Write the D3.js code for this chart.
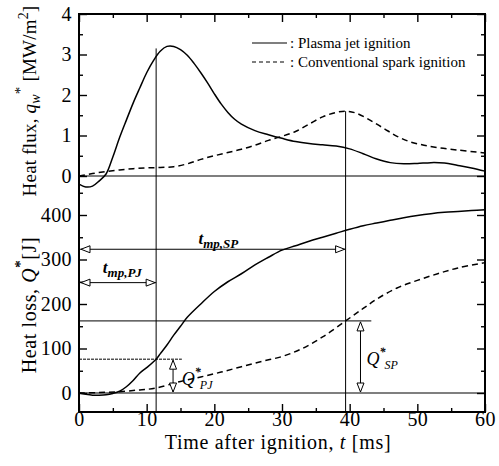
<!DOCTYPE html>
<html><head><meta charset="utf-8">
<script src="https://cdn.jsdelivr.net/npm/d3@7"></script>
<style>
html,body{margin:0;padding:0;background:#fff;}
text{font-family:"Liberation Serif","Times New Roman",serif;fill:#000;}
</style></head>
<body><svg id="c" width="499" height="466"></svg>
<script>
// ---- data ----
const tFluxPJ = [0,1,2,3,4,5,6,7,8,9,10,11,12,13,14,15,16,17,18,19,20,21,22,23,24,26,28,30,32,34,36,38,40,42,44,46,48,50,52,54,56,58,60];
const qFluxPJ = [-0.2,-0.27,-0.25,-0.12,0.05,0.47,0.95,1.38,1.8,2.18,2.55,2.85,3.08,3.2,3.2,3.12,2.98,2.78,2.55,2.3,2.03,1.78,1.57,1.4,1.28,1.12,1.02,0.93,0.85,0.8,0.77,0.74,0.67,0.55,0.42,0.33,0.3,0.31,0.33,0.32,0.26,0.2,0.12];
const tFluxSP = [0,2,4,6,8,10,12,14,16,18,20,22,24,26,28,30,32,34,36,38,39.5,41,43,45,47,49,51,53,56,60];
const qFluxSP = [0,0.06,0.11,0.15,0.18,0.2,0.21,0.23,0.3,0.41,0.5,0.58,0.66,0.76,0.88,0.98,1.1,1.28,1.46,1.57,1.6,1.55,1.38,1.18,0.98,0.84,0.76,0.7,0.64,0.57];
const tLossPJ = [0,1,2,3,4,5,6,7,8,9,10,11.4,12,13,14,15,16,18,20,22,24,26,28,30,32,34,36,38,40,42,44,46,48,50,52,54,56,58,60];
const QLossPJ = [0,-3,-5,-5,-4,-1,4,14,28,45,57,76,88,108,130,150,170,200,228,250,268,288,305,321,331,341,350,359,368,376,382,388,394,399,403,406,408,410,412];
const tLossSP = [0,3,6,9,11.4,15,18,21,24,27,30,33,36,39.4,42,44,47,50,53,56,60];
const QLossSP = [0,1,3,7,11,26,36,47,59,71,82,100,126,162,190,211,236,253,268,281,293];

const xTicks = [0,10,20,30,40,50,60];
const xMinor = [5,15,25,35,45,55];
const fluxTicks = [0,1,2,3,4];
const fluxMinor = [0.5,1.5,2.5,3.5];
const lossTicks = [0,100,200,300,400];
const lossMinor = [50,150,250,350,450];

// annotation values: times of max pressure and heat loss at those times
const tmp = [11.4, 39.4];          // t_mp,PJ , t_mp,SP
const Qmp = [76, 162];             // Q*_PJ , Q*_SP
const qTopOfMarker = [3.15, 1.6];  // where the vertical marker lines start (heat flux units)
const arrowLevels = [248, 323];    // heat loss levels of t_mp,PJ and t_mp,SP arrows
const legendLabels = [": Plasma jet ignition", ": Conventional spark ignition"];

// ---- layout ----
const svg = d3.select("#c");
const L=79, R=485, T=14, B=412;
const x = d3.scaleLinear().domain([0,60]).range([L,R]);
const yq = d3.scaleLinear().domain([0,4]).range([176,T]);
const yQ = d3.scaleLinear().domain([0,400]).range([393,215]);
const fmt = d3.format("d");

function axis(gen, transform, vals, size, labels, pad){
  const a = gen.tickValues(vals).tickSize(size).tickPadding(pad||7);
  a.tickFormat(labels ? fmt : "");
  const g = svg.append("g").attr("transform", transform).call(a);
  g.select(".domain").remove();
  g.selectAll("line").attr("stroke","#000").attr("stroke-width",1.4);
  g.selectAll("text").attr("font-size",20).attr("fill","#000")
    .style("font-family","Liberation Serif").style("letter-spacing","0.4px");
  g.attr("font-family",null).attr("font-size",null);
  return g;
}
// left
axis(d3.axisLeft(yq), `translate(${L},0)`, fluxTicks, -8, true);
axis(d3.axisLeft(yq), `translate(${L},0)`, fluxMinor, -4, false);
axis(d3.axisLeft(yQ), `translate(${L},0)`, lossTicks, -8, true);
axis(d3.axisLeft(yQ), `translate(${L},0)`, lossMinor, -4, false);
// right
axis(d3.axisRight(yq), `translate(${R},0)`, fluxTicks, -8, false);
axis(d3.axisRight(yq), `translate(${R},0)`, fluxMinor, -4, false);
axis(d3.axisRight(yQ), `translate(${R},0)`, lossTicks, -8, false);
axis(d3.axisRight(yQ), `translate(${R},0)`, lossMinor, -4, false);
// top
axis(d3.axisTop(x), `translate(0,${T})`, xTicks, -8, false);
axis(d3.axisTop(x), `translate(0,${T})`, xMinor, -4, false);
// bottom
const bx = axis(d3.axisBottom(x), `translate(0,${B})`, xTicks, -8, true, 0);
bx.selectAll("text").attr("dy",null).attr("y",14);
axis(d3.axisBottom(x), `translate(0,${B})`, xMinor, -4, false);

// frame
svg.append("rect").attr("x",L).attr("y",T).attr("width",R-L).attr("height",B-T)
  .attr("fill","none").attr("stroke","#000").attr("stroke-width",2);

// zero lines
svg.append("line").attr("x1",L).attr("x2",R).attr("y1",yq(0)).attr("y2",yq(0)).attr("stroke","#000").attr("stroke-width",1.2);
svg.append("line").attr("x1",L).attr("x2",R).attr("y1",yQ(0)).attr("y2",yQ(0)).attr("stroke","#000").attr("stroke-width",1.2);

// curves
const curve = d3.curveCatmullRom.alpha(0.5);
function drawCurve(ts, vs, ys, dashed){
  const pts = ts.map((t,i)=>[t,vs[i]]);
  svg.append("path").datum(pts)
    .attr("d", d3.line().x(d=>x(d[0])).y(d=>ys(d[1])).curve(curve))
    .attr("fill","none").attr("stroke","#000").attr("stroke-width",1.5)
    .attr("stroke-dasharray", dashed ? "6,4" : null);
}
drawCurve(tFluxPJ, qFluxPJ, yq, false);
drawCurve(tFluxSP, qFluxSP, yq, true);
drawCurve(tLossPJ, QLossPJ, yQ, false);
drawCurve(tLossSP, QLossSP, yQ, true);

// annotation lines
function ln(x1,y1,x2,y2,w,dash){
  svg.append("line").attr("x1",x1).attr("y1",y1).attr("x2",x2).attr("y2",y2)
    .attr("stroke","#000").attr("stroke-width",w||1).attr("stroke-dasharray",dash||null);
}
function head(tipX, tipY, dir){ // open triangle arrowhead
  const len=9, hw=3.5;
  let p;
  if(dir==="left") p=[[tipX,tipY],[tipX+len,tipY-hw],[tipX+len,tipY+hw]];
  if(dir==="right") p=[[tipX,tipY],[tipX-len,tipY-hw],[tipX-len,tipY+hw]];
  if(dir==="up") p=[[tipX,tipY],[tipX-hw,tipY+len],[tipX+hw,tipY+len]];
  if(dir==="down") p=[[tipX,tipY],[tipX-hw,tipY-len],[tipX+hw,tipY-len]];
  svg.append("path").attr("d","M"+p.map(d=>d.join(",")).join("L")+"Z")
    .attr("fill","#fff").attr("stroke","#000").attr("stroke-width",1);
}
// vertical marker lines
tmp.forEach((t,i)=> ln(x(t), yq(qTopOfMarker[i]), x(t), B, 1));
// horizontal t_mp arrows
tmp.forEach((t,i)=>{
  const y = yQ(arrowLevels[i]);
  ln(L+1, y, x(t), y, 1);
  head(L+2, y, "left");
  head(x(t)-1, y, "right");
});
// Q* level lines
ln(L, yQ(Qmp[0]), x(15.2), yQ(Qmp[0]), 1, "3,1");
ln(L, yQ(Qmp[1]), x(43.2), yQ(Qmp[1]), 1);
// Q* vertical double arrows
[[13.9, Qmp[0]],[41.6, Qmp[1]]].forEach(([t,Q])=>{
  ln(x(t), yQ(Q)+1, x(t), yQ(0)-1, 1);
  head(x(t), yQ(Q)+1, "up");
  head(x(t), yQ(0)-1, "down");
});

// annotation labels
function tLabel(cx, base, sub){
  const t = svg.append("text").attr("x",cx).attr("y",base).attr("text-anchor","middle")
    .attr("font-style","italic").attr("font-weight","bold");
  t.append("tspan").attr("font-size",17).text("t");
  t.append("tspan").attr("font-size",13).attr("dy",4).text(sub);
}
tLabel(x(20.6), yQ(335), "mp,SP");
tLabel(x(6.4), yQ(270), "mp,PJ");
function QLabel(sx, base, sub){
  const t = svg.append("text").attr("x",sx).attr("y",base).attr("font-style","italic");
  t.append("tspan").attr("font-size",18).text("Q");
  t.append("tspan").attr("font-size",12).attr("font-weight","bold").attr("dy",-9).text("*");
  t.append("tspan").attr("font-size",12).attr("dy",13).attr("dx",-1).text(sub);
}
QLabel(x(15.2), yQ(18), "PJ");
QLabel(x(42.5), yQ(63), "SP");

// legend
const legY = [43, 62];
legY.forEach((y,i)=>{
  ln(252, y, 287, y, 1.2, i===1 ? "4,3" : null);
  svg.append("text").attr("x",290).attr("y",y+5).attr("font-size",15).text(legendLabels[i]);
});

// axis titles
const xt = svg.append("text").attr("x",278).attr("y",449).attr("text-anchor","middle")
  .attr("font-size",20).style("letter-spacing","0.7px");
xt.append("tspan").text("Time after ignition, ");
xt.append("tspan").attr("font-style","italic").text("t");
xt.append("tspan").text(" [ms]");

const yt1 = svg.append("text").attr("transform","translate(36,101) rotate(-90)").attr("text-anchor","middle")
  .attr("font-size",19).style("letter-spacing","0.2px");
yt1.append("tspan").text("Heat flux, ");
yt1.append("tspan").attr("font-style","italic").text("q");
yt1.append("tspan").attr("font-style","italic").attr("font-size",14).attr("dy",4).text("w");
yt1.append("tspan").attr("font-size",15).attr("dy",-15).text("*");
yt1.append("tspan").attr("dy",11).text(" [MW/m");
yt1.append("tspan").attr("font-size",14).attr("dy",-8).text("2");
yt1.append("tspan").attr("dy",8).text("]");

const yt2 = svg.append("text").attr("transform","translate(36,305) rotate(-90)").attr("text-anchor","middle")
  .attr("font-size",20).style("letter-spacing","0.6px");
yt2.append("tspan").text("Heat loss, ");
yt2.append("tspan").attr("font-style","italic").text("Q");
yt2.append("tspan").attr("font-size",15).attr("font-weight","bold").attr("dy",-11).text("*");
yt2.append("tspan").attr("dy",11).text("[J]");
</script></body></html>
